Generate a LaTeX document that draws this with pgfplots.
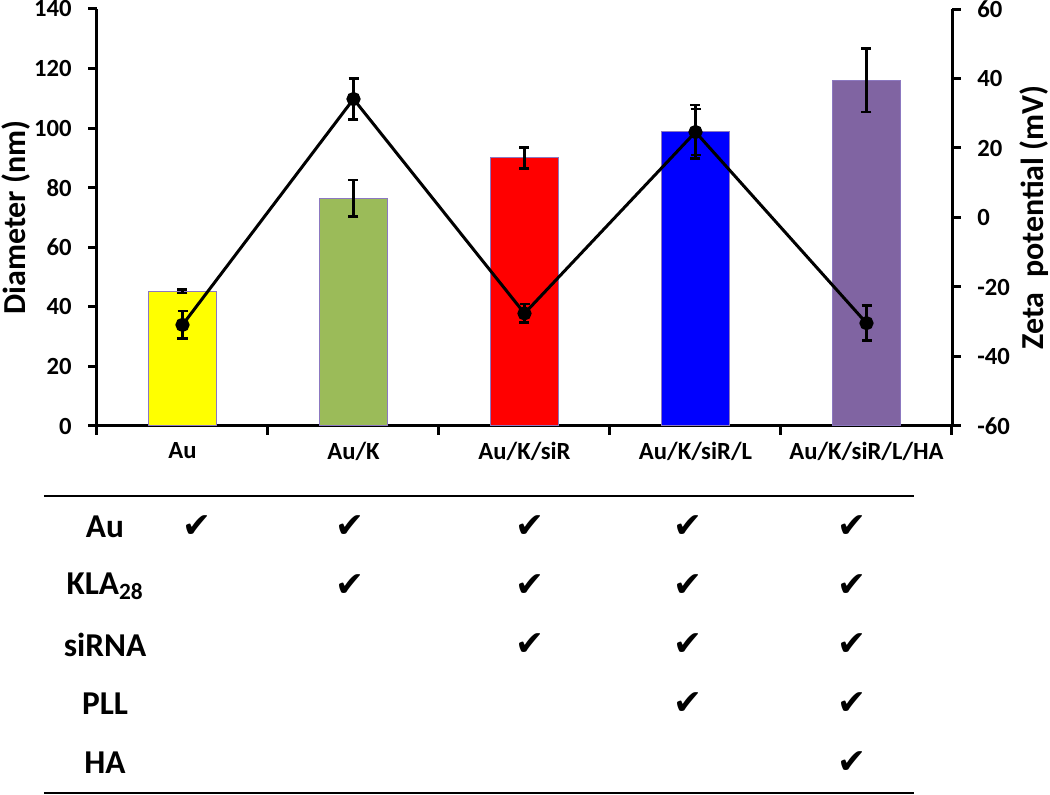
\documentclass[border=0pt]{standalone}
\usepackage{pgfplots}
\pgfplotsset{compat=1.18}
\usepackage{fontspec}
\setmainfont{Carlito}
\newfontfamily\chk{DejaVu Sans}
\definecolor{cY}{HTML}{FFFF00}
\definecolor{cG}{HTML}{9BBB59}
\definecolor{cR}{HTML}{FF0000}
\definecolor{cB}{HTML}{0000FF}
\definecolor{cP}{HTML}{8064A2}
\definecolor{edge}{HTML}{8C78C0}
\pgfplotsset{
  errb/.style={error bars/.cd, y dir=both, y explicit,
    error bar style={line width=2pt, black, solid},
    error mark options={rotate=90, line width=2pt, black, mark size=3.75pt}},
  barst/.style={ybar, bar width=0.4, bar shift=0pt, fill=#1, draw=edge, line width=0.75pt, errb},
  common/.style={scale only axis, width=641.25pt, height=312.75pt,
    xmin=-0.5, xmax=4.5, clip=false,
    axis line style={line width=2.25pt, black},
    tick align=outside, tick style={line width=2.25pt, black},
    major tick length=6.5pt, minor tick length=6.5pt,
    ticklabel style={font=\bfseries\fontsize{18.5}{18.5}\selectfont},
    /pgf/number format/assume math mode=true},
}
\begin{document}
\begin{tikzpicture}
\path[use as bounding box] (-72.75pt,-276.75pt) rectangle (714.75pt,319.5pt);
\begin{axis}[common,
  ymin=0, ymax=140, ytick={0,20,...,140},
  axis y line*=left, axis x line*=bottom,
  xtick={0,1,2,3,4},
  xticklabels={Au,Au/K,Au/K/siR,Au/K/siR/L,Au/K/siR/L/HA},
  major x tick style={draw=none},
  minor xtick={-0.5,0.5,1.5,2.5,3.5,4.5},
  xticklabel style={yshift=-2pt},
  yticklabel style={xshift=-9pt},
  ylabel={Diameter (nm)},
  every axis y label/.style={at={(rel axis cs:0,0.5)}, anchor=center, xshift=-61pt, rotate=90,
    font=\bfseries\fontsize{24}{24}\selectfont},
]
\addplot[barst=cY] coordinates {(0,45.3) +- (0,0.6)};
\addplot[barst=cG] coordinates {(1,76.5) +- (0,6.1)};
\addplot[barst=cR] coordinates {(2,90.0) +- (0,3.5)};
\addplot[barst=cB] coordinates {(3,98.8) +- (0,9.0)};
\addplot[barst=cP] coordinates {(4,116.1) +- (0,10.7)};
\end{axis}
\begin{axis}[common,
  ymin=-60, ymax=60, ytick={-60,-40,...,60},
  axis y line*=right, axis x line=none,
  yticklabel style={xshift=9pt},
  ylabel={Zeta\ \ potential (mV)},
  every axis y label/.style={at={(rel axis cs:1,0.5)}, anchor=center, xshift=61.5pt, rotate=90,
    font=\bfseries\fontsize{24}{24}\selectfont},
]
\addplot[black, line width=2.25pt, mark=*, mark size=4.2pt, mark options={solid, fill=black}, errb]
  coordinates {(0,-30.9) +- (0,4.0) (1,34.1) +- (0,5.9) (2,-27.6) +- (0,2.7) (3,24.6) +- (0,6.6) (4,-30.4) +- (0,5.0)};
\end{axis}
\begin{axis}[scale only axis, width=641.25pt, height=222.75pt,
  at={(0pt,-52.5pt)}, anchor=north west,
  xmin=-0.5, xmax=4.5, ymin=0, ymax=297, hide axis, clip=false]
\addplot[black, line width=1.5pt] coordinates {(-0.81,297) (4.28,297)};
\addplot[black, line width=1.5pt] coordinates {(-0.81,0) (4.28,0)};
\addplot[draw=none, mark=none,
  nodes near coords={\chk\fontsize{26}{26}\selectfont ✔},
  every node near coord/.append style={anchor=center, inner sep=0pt}]
  coordinates {(0.085,266) (0.98,266) (2.032,266) (2.956,266) (3.915,266)
               (0.98,207) (2.032,207) (2.956,207) (3.915,207)
               (2.032,148) (2.956,148) (3.915,148)
               (2.956,89) (3.915,89)
               (3.915,30)};
\begin{scope}[every node/.style={font=\bfseries\fontsize{25}{25}\selectfont, anchor=center}]
\node at (axis cs:-0.453,266) {Au};
\node at (axis cs:-0.453,207) {KLA\textsubscript{28}};
\node at (axis cs:-0.453,148) {siRNA};
\node at (axis cs:-0.453,89) {PLL};
\node at (axis cs:-0.453,30) {HA};
\end{scope}
\end{axis}
\end{tikzpicture}
\end{document}
